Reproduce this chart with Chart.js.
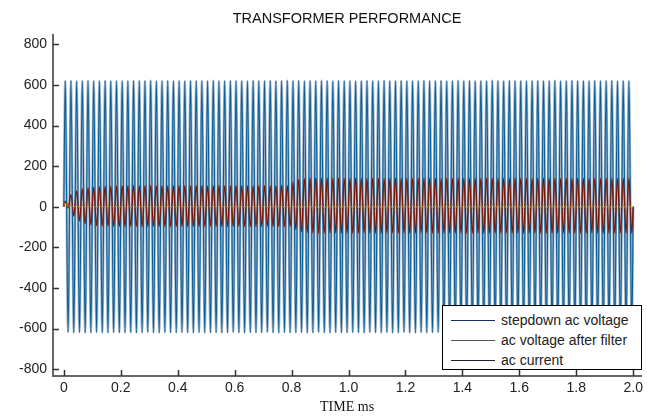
<!DOCTYPE html>
<html>
<head>
<meta charset="utf-8">
<script src="https://cdn.jsdelivr.net/npm/chart.js@4"></script>
<style>
  body { margin: 0; background: #fff; }
  #wrap { position: relative; width: 647px; height: 416px; }
  #legend {
    position: absolute; left: 442px; top: 305px; width: 198px; height: 63px;
    border: 1px solid #000; background: #fff;
    font: 14px "Liberation Sans", Arial, sans-serif; color: #222;
  }
  #legend .row { position: absolute; left: 0; height: 20px; line-height: 20px; white-space: nowrap; }
  #legend .sw { position: absolute; left: 8px; top: 10px; width: 44px; height: 0; border-top: 1px solid; }
  #legend .tx { position: absolute; left: 58px; top: 0; }
</style>
</head>
<body>
<div id="wrap">
  <canvas id="c" width="647" height="416"></canvas>
  <div id="legend"></div>
</div>
<script>
// one cycle = 0.02 ms, peak and trough of every cycle
const period = 0.02;
const seriesNames = ['stepdown ac voltage', 'ac voltage after filter', 'ac current'];
const xTicks = [0, 0.2, 0.4, 0.6, 0.8, 1, 1.2, 1.4, 1.6, 1.8, 2];
const yTicks = [-800, -600, -400, -200, 0, 200, 400, 600, 800];

const blueHigh = [
  620, 621, 619, 620, 622, 620, 619, 621, 620, 620,
  619, 620, 621, 620, 620, 622, 619, 620, 621, 620,
  620, 619, 621, 620, 620, 620, 622, 619, 620, 621,
  620, 620, 619, 621, 620, 620, 621, 619, 620, 622,
  620, 621, 619, 620, 620, 622, 620, 619, 621, 620,
  620, 619, 620, 621, 620, 620, 622, 619, 620, 621,
  620, 620, 619, 621, 620, 620, 621, 619, 620, 622,
  620, 621, 619, 620, 620, 622, 620, 619, 621, 620,
  620, 619, 620, 621, 620, 620, 622, 619, 620, 621,
  620, 620, 619, 621, 620, 620, 621, 619, 620, 620
];
const blueLow = [
  -618, -620, -619, -621, -620, -618, -620, -621, -619, -620,
  -620, -619, -621, -620, -618, -620, -621, -619, -620, -620,
  -619, -620, -621, -618, -620, -620, -619, -621, -620, -618,
  -620, -621, -619, -620, -620, -618, -620, -621, -619, -620,
  -620, -619, -621, -620, -618, -620, -621, -619, -620, -620,
  -619, -620, -621, -618, -620, -620, -619, -621, -620, -618,
  -620, -621, -619, -620, -620, -618, -620, -621, -619, -620,
  -620, -619, -621, -620, -618, -620, -621, -619, -620, -620,
  -619, -620, -621, -618, -620, -620, -619, -621, -620, -618,
  -620, -621, -619, -620, -620, -618, -620, -621, -619, -620
];
const redHigh = [
  27, 60, 78, 88, 93, 96, 98, 100, 101, 102,
  103, 103, 104, 103, 103, 104, 103, 103, 102, 103,
  104, 103, 103, 104, 103, 102, 103, 104, 103, 103,
  104, 103, 103, 102, 103, 104, 103, 103, 104, 103,
  122, 135, 139, 141, 142, 141, 141, 140, 141, 140,
  140, 141, 140, 140, 141, 140, 139, 140, 141, 140,
  140, 139, 140, 141, 140, 140, 139, 140, 140, 141,
  140, 139, 140, 140, 141, 140, 139, 140, 140, 141,
  140, 140, 139, 140, 141, 140, 140, 139, 140, 140,
  141, 140, 139, 140, 140, 141, 140, 139, 140, 140
];
const redLow = [
  -6, -45, -70, -84, -90, -93, -95, -96, -97, -97,
  -97, -96, -97, -98, -97, -96, -97, -97, -98, -97,
  -96, -97, -97, -98, -97, -96, -97, -97, -98, -97,
  -96, -97, -97, -98, -97, -96, -97, -97, -98, -97,
  -112, -124, -128, -130, -131, -130, -130, -129, -130, -130,
  -131, -130, -129, -130, -130, -131, -130, -129, -130, -130,
  -131, -130, -129, -130, -130, -131, -130, -129, -130, -130,
  -131, -130, -129, -130, -130, -131, -130, -129, -130, -130,
  -131, -130, -129, -130, -130, -131, -130, -129, -130, -130,
  -131, -130, -129, -130, -130, -131, -130, -129, -130, -130
];
const curHigh = [
  20, 10, 8, 7, 7, 6, 7, 6, 7, 6,
  7, 6, 7, 6, 7, 6, 7, 6, 7, 6,
  7, 6, 7, 6, 7, 6, 7, 6, 7, 6,
  7, 6, 7, 6, 7, 6, 7, 6, 7, 6,
  9, 9, 8, 9, 8, 9, 8, 9, 8, 9,
  8, 9, 8, 9, 8, 9, 8, 9, 8, 9,
  8, 9, 8, 9, 8, 9, 8, 9, 8, 9,
  8, 9, 8, 9, 8, 9, 8, 9, 8, 9,
  8, 9, 8, 9, 8, 9, 8, 9, 8, 9,
  8, 9, 8, 9, 8, 9, 8, 9, 8, 9
];
const curLow = [
  -2, -5, -6, -6, -6, -6, -6, -6, -6, -6,
  -6, -6, -6, -6, -6, -6, -6, -6, -6, -6,
  -6, -6, -6, -6, -6, -6, -6, -6, -6, -6,
  -6, -6, -6, -6, -6, -6, -6, -6, -6, -6,
  -8, -8, -8, -8, -8, -8, -8, -8, -8, -8,
  -8, -8, -8, -8, -8, -8, -8, -8, -8, -8,
  -8, -8, -8, -8, -8, -8, -8, -8, -8, -8,
  -8, -8, -8, -8, -8, -8, -8, -8, -8, -8,
  -8, -8, -8, -8, -8, -8, -8, -8, -8, -8,
  -8, -8, -8, -8, -8, -8, -8, -8, -8, -8
];

function wave(high, low) {
  const pts = [{ x: 0, y: 0 }];
  high.forEach((v, k) => {
    pts.push({ x: period * k + period / 4, y: v });
    pts.push({ x: period * k + 3 * period / 4, y: low[k] });
  });
  pts.push({ x: period * high.length, y: 0 });
  return pts;
}

const legendColors = ['#1b2d5c', '#555555', '#1c2430'];

const inwardTicks = {
  id: 'inwardTicks',
  afterDatasetsDraw(chart) {
    const { ctx, chartArea: a, scales: { x, y } } = chart;
    ctx.save();
    ctx.strokeStyle = '#333';
    ctx.lineWidth = 1.5;
    ctx.beginPath();
    xTicks.forEach(v => {
      const px = Math.round(x.getPixelForValue(v)) + 0.5;
      ctx.moveTo(px, a.bottom);
      ctx.lineTo(px, a.bottom - 6);
    });
    yTicks.forEach(v => {
      const py = Math.round(y.getPixelForValue(v)) + 0.5;
      ctx.moveTo(a.left, py);
      ctx.lineTo(a.left + 6, py);
    });
    ctx.stroke();
    ctx.restore();
  }
};

const ctx = document.getElementById('c');
new Chart(ctx, {
  type: 'line',
  data: {
    datasets: [
      // higher order is drawn further back: halos first, then traces
      { label: seriesNames[0], data: wave(blueHigh, blueLow), borderColor: '#9cb2c7', borderWidth: 2.4, order: 4 },
      { label: seriesNames[0], data: wave(blueHigh, blueLow), borderColor: '#0a5e98', borderWidth: 1.1, order: 2 },
      { label: seriesNames[1], data: wave(redHigh, redLow), borderColor: 'rgba(170,95,80,0.55)', borderWidth: 1.8, order: 3 },
      { label: seriesNames[1], data: wave(redHigh, redLow), borderColor: '#7a1403', borderWidth: 1.1, order: 1 },
      { label: seriesNames[2], data: wave(curHigh, curLow), borderColor: '#a8842a', borderWidth: 1, order: 0 }
    ]
  },
  options: {
    responsive: false,
    animation: false,
    events: [],
    elements: {
      point: { radius: 0 },
      line: { cubicInterpolationMode: 'monotone', tension: 0.4, fill: false }
    },
    layout: { padding: 0 },
    plugins: {
      legend: { display: false },
      tooltip: { enabled: false },
      title: {
        display: true,
        text: 'TRANSFORMER PERFORMANCE',
        fullSize: false,
        color: '#111',
        font: { family: '"Liberation Sans", Arial', size: 14.5, weight: 'normal' },
        padding: { top: 10, bottom: 8 }
      }
    },
    scales: {
      x: {
        type: 'linear',
        min: -0.038,
        max: 2.028,
        afterBuildTicks: s => { s.ticks = xTicks.map(v => ({ value: v })); },
        afterFit: s => { s.height = 40; },
        grid: { display: false, drawTicks: false },
        border: { display: true, color: '#666', width: 2 },
        ticks: {
          color: '#222',
          padding: 4,
          maxRotation: 0,
          font: { family: '"Liberation Sans", Arial', size: 14 }
        },
        title: {
          display: true,
          text: 'TIME ms',
          color: '#111',
          padding: 0,
          font: { family: '"Liberation Serif", "Times New Roman", serif', size: 14 }
        }
      },
      y: {
        min: -834,
        max: 844,
        afterBuildTicks: s => { s.ticks = yTicks.map(v => ({ value: v })); },
        afterFit: s => { s.width = 53; },
        grid: { display: false, drawTicks: false },
        border: { display: true, color: '#666', width: 2 },
        ticks: {
          color: '#222',
          padding: 6,
          font: { family: '"Liberation Sans", Arial', size: 14 }
        }
      }
    }
  },
  plugins: [inwardTicks]
});

const legend = document.getElementById('legend');
seriesNames.forEach((name, i) => {
  const row = document.createElement('div');
  row.className = 'row';
  row.style.top = (4 + i * 20) + 'px';
  row.innerHTML = '<span class="sw" style="border-color:' + legendColors[i] + '"></span><span class="tx"></span>';
  row.querySelector('.tx').textContent = name;
  legend.appendChild(row);
});
</script>
</body>
</html>
